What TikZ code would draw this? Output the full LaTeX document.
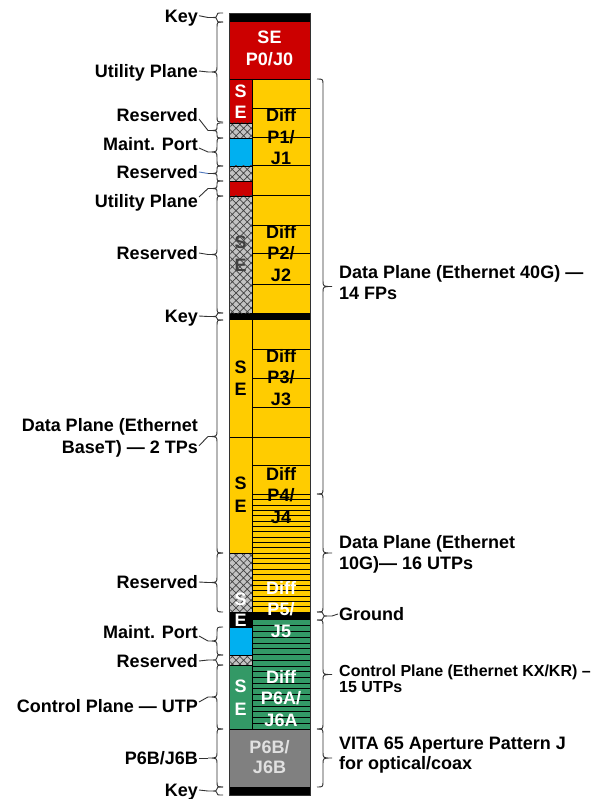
\documentclass[tikz,border=0pt]{standalone}
\usepackage{fontspec}
\setmainfont{Liberation Sans}
\usetikzlibrary{patterns.meta}
\definecolor{cred}{RGB}{204,0,0}
\definecolor{cyel}{RGB}{255,204,0}
\definecolor{cblue}{RGB}{0,176,240}
\definecolor{cgreen}{RGB}{51,153,102}
\definecolor{cgray}{RGB}{128,128,128}
\definecolor{chatch}{RGB}{195,195,195}
\definecolor{cbrace}{RGB}{50,50,50}
\definecolor{cdash}{RGB}{80,120,190}
\newcommand\mybrace[5]{%
  \pgfmathsetmacro\bH{min(6,(#3-#2)/4)}%
  \pgfmathsetmacro\bM{(#2+#3)/2}%
  \pgfmathsetmacro\bB{#1+(#4)*6}%
  \pgfmathsetmacro\bT{#1+(#4)*15}%
  \draw[bracestyle] (#1,#2) .. controls (\bB,#2) .. (\bB,#2+\bH) -- (\bB,\bM-\bH) .. controls (\bB,\bM) .. (\bT,\bM) .. controls (\bB,\bM) .. (\bB,\bM+\bH) -- (\bB,#3-\bH) .. controls (\bB,#3) .. (#1,#3);
  \coordinate (#5) at (\bT,\bM);
}
\begin{document}
\begin{tikzpicture}[x=1pt,y=-1pt,
  bracestyle/.style={draw=cbrace,line width=0.9pt},
  conn/.style={draw=cbrace,line width=0.9pt},
  lbl/.style={font=\fontsize{18}{21.5}\selectfont\bfseries,inner sep=0pt,align=right,anchor=east,text height=12.9pt,text depth=0pt},
  rlbl/.style={font=\fontsize{18}{21.5}\selectfont\bfseries,inner sep=0pt,align=left,anchor=west,text height=12.9pt,text depth=0pt},
  intxt/.style={font=\fontsize{18}{21.5}\selectfont\bfseries,inner sep=0pt,align=center,text height=12.9pt,text depth=0pt},
  hatchbox/.style={fill=chatch,postaction={pattern={Hatch[angle=45,distance=5.3pt,line width=0.7pt]},pattern color=black!75}},
  rowline/.style={draw=black,line width=0.8pt}
]
\useasboundingbox (0,0) rectangle (613,799);
\fill[white] (0,0) rectangle (613,799);
% ---------- full-width blocks
\fill[black] (229,13) rectangle (310,22);
\fill[cred] (229,22) rectangle (310,79);
\fill[black] (229,313) rectangle (310,320);
\fill[cgray] (229,729) rectangle (310,787);
\fill[black] (229,787) rectangle (310,795);
% ---------- right column
\fill[cyel] (252,79) rectangle (310,313);
\fill[cyel] (252,320) rectangle (310,612);
\fill[black] (252,612) rectangle (310,620);
\fill[cgreen] (252,620) rectangle (310,729);
% ---------- left column
\fill[cred] (229,79) rectangle (252,123);
\path[hatchbox] (229,123) rectangle (252,138);
\fill[cblue] (229,138) rectangle (252,166);
\path[hatchbox] (229,166) rectangle (252,181);
\fill[cred] (229,181) rectangle (252,196);
\path[hatchbox] (229,196) rectangle (252,313);
\fill[cyel] (229,320) rectangle (252,553);
\path[hatchbox] (229,553) rectangle (252,612);
\fill[black] (229,612) rectangle (252,627);
\fill[cblue] (229,627) rectangle (252,655);
\path[hatchbox] (229,655) rectangle (252,665);
\fill[cgreen] (229,665) rectangle (252,729);
% ---------- row lines
\foreach \yy in {108.7,137.7,165.7,195.7,225,253.3,284.3,349.3,378.3,407.3,465.7,494.3}
  \draw[rowline] (252,\yy) -- (310,\yy);
\foreach \k in {1,...,21}
  \draw[rowline] (252,{494.3+\k*5.35}) -- (310,{494.3+\k*5.35});
\foreach \k in {1,...,18}
  \draw[rowline] (252,{620+\k*5.737}) -- (310,{620+\k*5.737});
\foreach \yy in {123,138,166,181,196,553,627,655,665}
  \draw[rowline] (229,\yy) -- (252,\yy);
\foreach \yy in {79,437,729}
  \draw[rowline] (229,\yy) -- (310,\yy);
\draw[rowline] (252,79) -- (252,729);
\draw[draw=black!80,line width=0.8pt] (229,13) rectangle (310,795);
% ---------- text inside column (y = centre of last line)
\node[intxt,text=white] (se0) at (269.5,59) {SE\\P0/J0};
\node[intxt,text=white] (s1) at (240.5,91) {S};
\node[intxt,text=white] (e1) at (240.5,112) {E};
\node[intxt] (d1) at (281,158.5) {Diff\\P1/\\J1};
\node[intxt,text=black!75] (s2) at (240.5,242) {S};
\node[intxt,text=black!75] (e2) at (240.5,265) {E};
\node[intxt] (d2) at (281,275) {Diff\\P2/\\J2};
\node[intxt] (s3) at (240.5,367) {S};
\node[intxt] (e3) at (240.5,389) {E};
\node[intxt] (d3) at (281,399) {Diff\\P3/\\J3};
\node[intxt] (s4) at (240.5,483) {S};
\node[intxt] (e4) at (240.5,506) {E};
\node[intxt] (d4) at (281,517) {Diff\\P4/\\J4};
\node[intxt,text=white] (s5) at (240.5,599) {S};
\node[intxt,text=white] (e5) at (240.5,620) {E};
\node[intxt,text=white] (d5) at (281,631) {Diff\\P5/\\J5};
\node[intxt,text=white] (s6) at (240.5,686) {S};
\node[intxt,text=white] (e6) at (240.5,709) {E};
\node[intxt,text=white] (d6) at (281,720) {Diff\\P6A/\\J6A};
\node[intxt,text=black!12,font=\fontsize{18}{20}\selectfont\bfseries] (p6b) at (269.5,767.5) {P6B/\\J6B};
% ---------- left braces
\mybrace{223}{13}{22}{-1}{tL1}
\mybrace{223}{22}{122}{-1}{tL2}
\mybrace{223}{123}{138}{-1}{tL3}
\mybrace{223}{138}{166}{-1}{tL4}
\mybrace{223}{166}{181}{-1}{tL5}
\mybrace{223}{181}{196}{-1}{tL6}
\mybrace{223}{196}{313}{-1}{tL7}
\mybrace{223}{313}{320}{-1}{tL8}
\mybrace{223}{320}{553}{-1}{tL9}
\mybrace{223}{553}{612}{-1}{tL10}
\mybrace{223}{627}{655}{-1}{tL11}
\mybrace{223}{655}{665}{-1}{tL12}
\mybrace{223}{665}{729}{-1}{tL13}
\mybrace{223}{729}{787}{-1}{tL14}
\mybrace{223}{787}{795}{-1}{tL15}
% ---------- left labels
\node[lbl] (L1) at (198,15.7) {Key};
\node[lbl] (L2) at (198,71) {Utility Plane};
\node[lbl] (L3) at (198,115) {Reserved};
\node[lbl] (L4) at (198,144) {Maint. Port};
\node[lbl] (L5) at (198,172) {Reserved};
\node[lbl] (L6) at (198,201) {Utility Plane};
\node[lbl] (L7) at (198,253) {Reserved};
\node[lbl] (L8) at (198,316) {Key};
\node[lbl] (L9) at (198,446.75) {Data Plane (Ethernet\\BaseT) — 2 TPs};
\node[lbl] (L10) at (198,582) {Reserved};
\node[lbl] (L11) at (198,632) {Maint. Port};
\node[lbl] (L12) at (198,661) {Reserved};
\node[lbl] (L13) at (198,706) {Control Plane — UTP};
\node[lbl] (L14) at (198,758) {P6B/J6B};
\node[lbl] (L15) at (198,790) {Key};
\draw[conn] ([xshift=1pt]L1.east) -- (tL1);
\draw[conn] ([xshift=1pt]L2.east) -- (tL2);
\draw[conn] ([xshift=1pt,yshift=-4pt]L3.east) -- (tL3);
\draw[conn] ([xshift=1pt,yshift=-4pt]L4.east) -- (tL4);
\draw[draw=cdash,line width=0.9pt] ([xshift=1pt]L5.east) -- (tL5);
\draw[conn] ([xshift=1pt,yshift=4pt]L6.east) -- (tL6);
\draw[conn] ([xshift=1pt]L7.east) -- (tL7);
\draw[conn] ([xshift=1pt]L8.east) -- (tL8);
\draw[conn] ([xshift=1pt,yshift=1pt]L9.east) -- (tL9);
\draw[conn] ([xshift=1pt]L10.east) -- (tL10);
\draw[conn] ([xshift=1pt,yshift=-4pt]L11.east) -- (tL11);
\draw[conn] ([xshift=1pt]L12.east) -- (tL12);
\draw[conn] ([xshift=1pt,yshift=4pt]L13.east) -- (tL13);
\draw[conn] ([xshift=1pt]L14.east) -- (tL14);
\draw[conn] ([xshift=1pt]L15.east) -- (tL15);
% ---------- right braces
\mybrace{317}{79}{494}{1}{tR1}
\mybrace{317}{494}{612}{1}{tR2}
\mybrace{317}{612}{620}{1}{tR3}
\mybrace{317}{620}{729}{1}{tR4}
\mybrace{317}{729}{787}{1}{tR5}
% ---------- right labels (y = centre of last line)
\node[rlbl] (R1) at (339,293.25) {Data Plane (Ethernet 40G) —\\14 FPs};
\node[rlbl] (R2) at (339,563.25) {Data Plane (Ethernet\\10G)— 16 UTPs};
\node[rlbl] (R3) at (339,614) {Ground};
\node[rlbl,font=\fontsize{16}{15.8}\selectfont\bfseries,text height=11.5pt] (R4) at (339,687) {Control Plane (Ethernet KX/KR) –\\15 UTPs};
\node[rlbl,font=\fontsize{18}{20}\selectfont\bfseries] (R5) at (339,763) {VITA 65 Aperture Pattern J\\for optical/coax};
\draw[conn] (tR3) -- ([xshift=-1pt]R3.west);
\end{tikzpicture}
\end{document}
